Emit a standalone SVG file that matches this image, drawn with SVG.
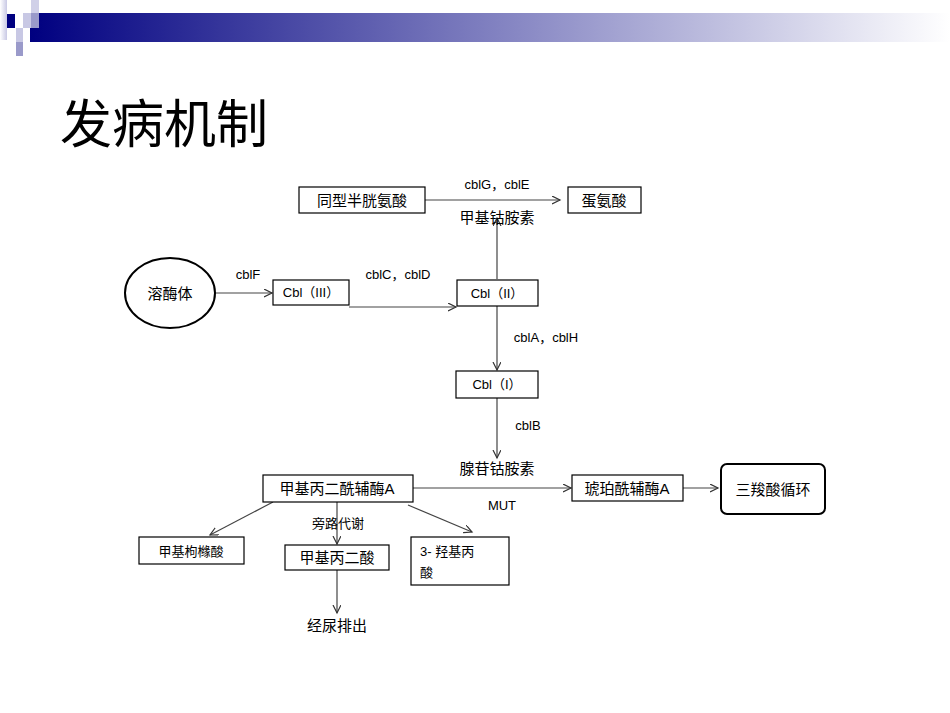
<svg xmlns="http://www.w3.org/2000/svg" width="950" height="713" viewBox="0 0 950 713">
<defs>
<linearGradient id="g" x1="0" x2="1" y1="0" y2="0"><stop offset="0" stop-color="#000080"/><stop offset="0.5" stop-color="#8080c0"/><stop offset="1" stop-color="#ffffff"/></linearGradient>
<linearGradient id="g2" x1="0" x2="1"><stop offset="0" stop-color="#fff"/><stop offset="1" stop-color="#c8c8e4"/></linearGradient>
<marker id="a" markerWidth="10" markerHeight="10" refX="8" refY="4" orient="auto" markerUnits="userSpaceOnUse"><path d="M0,0 L8,4 L0,8" fill="none" stroke="#333" stroke-width="1.2"/></marker>
</defs>
<style>
text{font-family:"Liberation Sans","Noto Sans CJK SC",sans-serif;fill:#000}
.b{fill:#fff;stroke:#000;stroke-width:1.2}
.l{fill:none;stroke:#444;stroke-width:1.2;marker-end:url(#a)}
.t{font-size:15px}
.s{font-size:13px}
</style>
<rect width="950" height="713" fill="#fff"/>
<g id="header">
<rect x="30" y="13" width="920" height="29" fill="url(#g)"/>
<rect x="0" y="0" width="7" height="40" fill="url(#g2)"/>
<rect x="7" y="14" width="8" height="14" fill="#000080"/>
<rect x="23" y="13" width="8" height="15" fill="#c8c8e4"/>
<rect x="31" y="0" width="8" height="13" fill="#d0d0e8"/>
<rect x="31" y="13" width="8" height="15" fill="#9a9aca"/>
<rect x="16" y="28" width="7" height="14" fill="#c8c8e4"/>
<rect x="16" y="42" width="7" height="14" fill="#9a9aca"/>
</g>
<text x="60" y="143" font-size="52" style="font-family:'Noto Sans CJK SC',sans-serif">发病机制</text>
<g id="connectors">
<path class="l" d="M425 200H560"/>
<path class="l" d="M214 293H272"/>
<path class="l" d="M349 307H456"/>
<path class="l" d="M497 279V218"/>
<path class="l" d="M497 306V370"/>
<path class="l" d="M497 398V458"/>
<path class="l" d="M413 488H571"/>
<path class="l" d="M683 488H718"/>
<path class="l" d="M273 502L210 535"/>
<path class="l" d="M337 502V544"/>
<path class="l" d="M408 505L472 532"/>
<path class="l" d="M337 570V613"/>
</g>
<g id="n1"><rect class="b" x="299" y="187" width="126" height="26"/><text class="t" x="362" y="206" text-anchor="middle">同型半胱氨酸</text></g>
<g id="n2"><rect class="b" x="568" y="187" width="73" height="26"/><text class="t" x="604" y="206" text-anchor="middle">蛋氨酸</text></g>
<text class="s" x="497" y="189" text-anchor="middle">cblG，cblE</text>
<text class="t" x="497" y="223" text-anchor="middle">甲基钴胺素</text>
<g id="n3"><ellipse cx="170" cy="293" rx="45" ry="35" fill="#fff" stroke="#000" stroke-width="2"/><text class="t" x="170" y="299" text-anchor="middle">溶酶体</text></g>
<text class="s" x="248" y="279" text-anchor="middle">cblF</text>
<g id="n4"><rect class="b" x="273" y="280" width="76" height="25"/><text class="s" x="311" y="297" text-anchor="middle">Cbl（III）</text></g>
<text class="s" x="398" y="279" text-anchor="middle">cblC，cblD</text>
<g id="n5"><rect class="b" x="457" y="280" width="81" height="26"/><text class="s" x="497" y="298" text-anchor="middle">Cbl（II）</text></g>
<text class="s" x="546" y="342" text-anchor="middle">cblA，cblH</text>
<g id="n6"><rect class="b" x="456" y="371" width="82" height="27"/><text class="s" x="497" y="389" text-anchor="middle">Cbl（I）</text></g>
<text class="s" x="528" y="430" text-anchor="middle">cblB</text>
<text class="t" x="497" y="474" text-anchor="middle">腺苷钴胺素</text>
<g id="n7"><rect class="b" x="263" y="475" width="150" height="27"/><text class="t" x="337" y="494" text-anchor="middle">甲基丙二酰辅酶A</text></g>
<text class="s" x="502" y="510" text-anchor="middle">MUT</text>
<g id="n8"><rect class="b" x="572" y="475" width="111" height="26"/><text class="t" x="627" y="494" text-anchor="middle">琥珀酰辅酶A</text></g>
<g id="n9"><rect x="721" y="464" width="104" height="50" rx="6" fill="#fff" stroke="#000" stroke-width="2"/><text class="t" x="773" y="495" text-anchor="middle">三羧酸循环</text></g>
<text class="s" x="338" y="528" text-anchor="middle">旁路代谢</text>
<g id="n10"><rect class="b" x="139" y="537" width="105" height="27"/><text class="s" x="191" y="556" text-anchor="middle">甲基枸橼酸</text></g>
<g id="n11"><rect class="b" x="285" y="545" width="104" height="25"/><text class="t" x="337" y="563" text-anchor="middle">甲基丙二酸</text></g>
<g id="n12"><rect class="b" x="411" y="537" width="98" height="48"/><text class="s" x="420" y="556">3- 羟基丙</text><text class="s" x="420" y="577">酸</text></g>
<text class="t" x="337" y="631" text-anchor="middle">经尿排出</text>
</svg>
